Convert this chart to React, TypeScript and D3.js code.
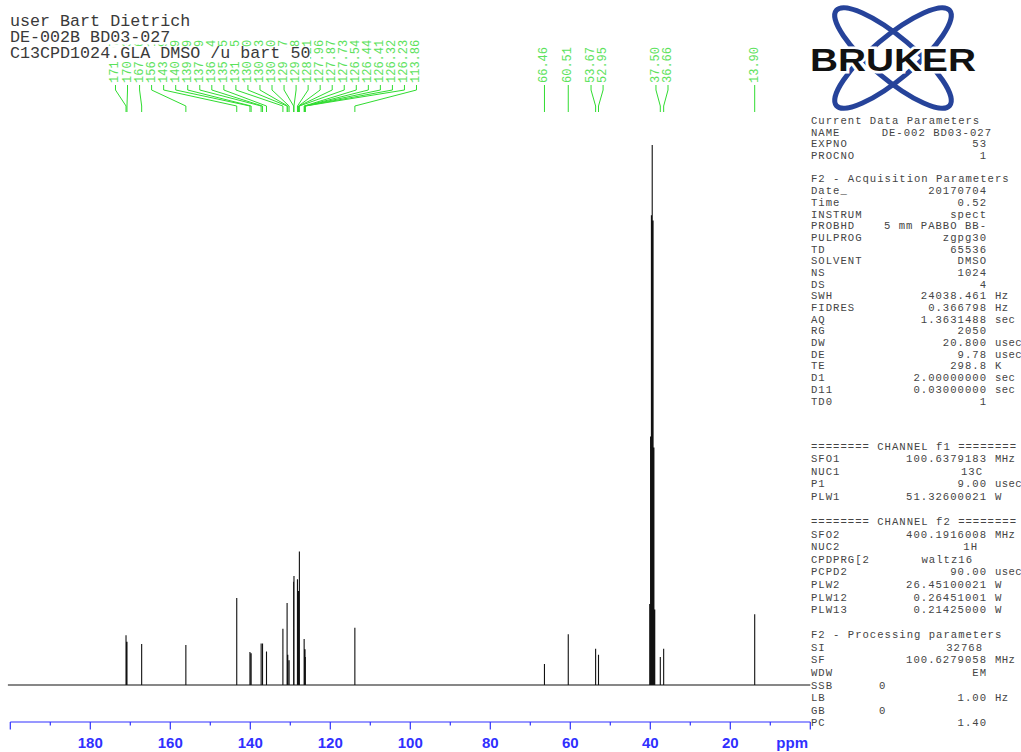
import React from "react";
import * as d3 from "d3";

// labelled 13C peaks (ppm) and their heights (% of tallest solvent line)
const peakPpm = [
  171.07, 170.83, 167.16, 156.11, 143.39, 140.09, 139.79, 137.29, 136.94, 135.95,
  131.85, 130.8, 130.63, 130.3, 129.17, 129.08, 128.21, 127.96, 127.87, 127.73,
  126.54, 126.44, 126.41, 126.32, 126.23, 113.86, 66.46, 60.51, 53.67, 52.95,
  37.5, 36.66, 13.9,
];
const peakInt = [
  9.2, 8.0, 7.6, 7.4, 16.1, 6.1, 5.9, 7.7, 7.7, 6.2,
  10.4, 15.2, 5.6, 4.6, 19.1, 20.2, 19.6, 17.4, 15.7, 24.7,
  8.5, 6.6, 5.6, 6.6, 5.2, 10.6, 3.9, 9.4, 6.7, 5.6,
  5.2, 6.7, 13.1,
];

// DMSO-d6 septet (not labelled)
const solventPpm = [40.14, 39.93, 39.72, 39.52, 39.31, 39.1, 38.89];
const solventInt = [15, 46, 87, 100, 86, 44, 14];

const axisLabels = [180, 160, 140, 120, 100, 80, 60, 40, 20];

const titleLines = ["user Bart Dietrich", "DE-002B BD03-027", "C13CPD1024.GLA DMSO /u bart 50"];

type Row = [string?, string?, string?, number?];

const acqRows: Row[] = [
  ["Current Data Parameters"],
  ["NAME", "DE-002 BD03-027", "", 992],
  ["EXPNO", "53"],
  ["PROCNO", "1"],
  [],
  ["F2 - Acquisition Parameters"],
  ["Date_", "20170704"],
  ["Time", "0.52"],
  ["INSTRUM", "spect"],
  ["PROBHD", "5 mm PABBO BB-"],
  ["PULPROG", "zgpg30"],
  ["TD", "65536"],
  ["SOLVENT", "DMSO"],
  ["NS", "1024"],
  ["DS", "4"],
  ["SWH", "24038.461", "Hz"],
  ["FIDRES", "0.366798", "Hz"],
  ["AQ", "1.3631488", "sec"],
  ["RG", "2050"],
  ["DW", "20.800", "usec"],
  ["DE", "9.78", "usec"],
  ["TE", "298.8", "K"],
  ["D1", "2.00000000", "sec"],
  ["D11", "0.03000000", "sec"],
  ["TD0", "1"],
];

const procRows: Row[] = [
  ["======== CHANNEL f1 ========"],
  ["SFO1", "100.6379183", "MHz"],
  ["NUC1", "13C", "", 983],
  ["P1", "9.00", "usec"],
  ["PLW1", "51.32600021", "W"],
  [],
  ["======== CHANNEL f2 ========"],
  ["SFO2", "400.1916008", "MHz"],
  ["NUC2", "1H", "", 978],
  ["CPDPRG[2", "waltz16", "", 973],
  ["PCPD2", "90.00", "usec"],
  ["PLW2", "26.45100021", "W"],
  ["PLW12", "0.26451001", "W"],
  ["PLW13", "0.21425000", "W"],
  [],
  ["F2 - Processing parameters"],
  ["SI", "32768", "", 983],
  ["SF", "100.6279058", "MHz"],
  ["WDW", "EM"],
  ["SSB", "0", "", -1],
  ["LB", "1.00", "Hz"],
  ["GB", "0", "", -1],
  ["PC", "1.40"],
];

const x = d3.scaleLinear().domain([200, 0]).range([10.3, 810.3]);
const y = d3.scaleLinear().domain([0, 100]).range([685, 145]);

const GREEN_TXT = "#5ce25c";
const GREEN_LN = "#30dc30";
const BLUE = "#3030ff";
const PANEL = "#444";
const MONO = "'Liberation Mono', 'Courier New', monospace";

// spread the labels so that they never overlap (Bruker style)
function layoutLabels(px: number[], gap: number) {
  const order = px.map((v, i) => i).sort((a, b) => px[a] - px[b]);
  let cl = order.map((i) => ({ idx: [i], sum: px[i] }));
  let merged = true;
  while (merged) {
    merged = false;
    for (let i = 0; i < cl.length - 1; i++) {
      const a = cl[i], b = cl[i + 1];
      const aEnd = a.sum / a.idx.length + ((a.idx.length - 1) / 2) * gap;
      const bStart = b.sum / b.idx.length - ((b.idx.length - 1) / 2) * gap;
      if (bStart - aEnd < gap) {
        cl.splice(i, 2, { idx: a.idx.concat(b.idx), sum: a.sum + b.sum });
        merged = true;
        break;
      }
    }
  }
  const pos: number[] = new Array(px.length);
  cl.forEach((c) => {
    const n = c.idx.length;
    const start = c.sum / n - ((n - 1) / 2) * gap;
    c.idx.forEach((id, k) => (pos[id] = start + k * gap));
  });
  return pos;
}

function Panel({ rows, top, step }: { rows: Row[]; top: number; step: number }) {
  return (
    <g fontFamily={MONO} fontSize={10.6} fill={PANEL} letterSpacing={1}>
      {rows.map((r, i) => {
        if (!r.length) return null;
        const cy = top + i * step;
        const [label, value, unit, endX] = r;
        return (
          <g key={i}>
            <text x={811} y={cy} dominantBaseline="central" style={{ whiteSpace: "pre" }}>
              {label}
            </text>
            {value != null &&
              (endX === -1 ? (
                <text x={879} y={cy} dominantBaseline="central">{value}</text>
              ) : (
                <text
                  x={endX ?? 987}
                  y={cy}
                  dominantBaseline="central"
                  textAnchor="end"
                  style={{ whiteSpace: "pre" }}
                >
                  {value}
                </text>
              ))}
            {unit ? (
              <text x={995} y={cy} dominantBaseline="central" letterSpacing={0.4}>
                {unit}
              </text>
            ) : null}
          </g>
        );
      })}
    </g>
  );
}

export default function App() {
  const peakX = peakPpm.map((p) => x(p));
  const labelX = layoutLabels(peakX, 12.04);
  const y0 = y(0);

  const spectrum =
    `M${x(200.6)},${y0}L${x(0)},${y0}` +
    peakPpm.map((p, i) => `M${x(p)},${y0}L${x(p)},${y(peakInt[i])}`).join("") +
    solventPpm.map((p, i) => `M${x(p)},${y0}L${x(p)},${y(solventInt[i])}`).join("");

  const ticks = x.ticks(20);
  const axisY = 722;

  return (
    <svg
      width={1021}
      height={752}
      style={{ position: "absolute", left: 0, top: 0, background: "#fff" }}
    >
      {/* peak labels */}
      <g>
        {peakPpm.map((p, i) => (
          <g key={i}>
            <path
              d={`M${labelX[i]},85L${labelX[i]},90L${peakX[i]},106L${peakX[i]},112`}
              fill="none"
              stroke={GREEN_LN}
              strokeWidth={1}
            />
            <text
              transform={`translate(${labelX[i]},83) rotate(-90)`}
              dominantBaseline="central"
              fontFamily={MONO}
              fontSize={12}
              fill={GREEN_TXT}
            >
              {p.toFixed(2)}
            </text>
          </g>
        ))}
      </g>

      {/* title (opaque background hides the label tops, as in the plot) */}
      <g fontFamily={MONO} fontSize={16.7} fill="#3a3a3a">
        {titleLines.map((t, i) => (
          <g key={i}>
            <rect x={10} y={26 + i * 16 - 10.5} width={t.length * 10} height={13} fill="#fff" />
            <text x={10} y={26 + i * 16} style={{ whiteSpace: "pre" }}>
              {t}
            </text>
          </g>
        ))}
      </g>

      {/* spectrum */}
      <path d={spectrum} fill="none" stroke="#111" strokeWidth={1.1} />

      {/* axis */}
      <g stroke={BLUE} strokeWidth={1.2}>
        <line x1={x(200)} x2={x(0)} y1={axisY} y2={axisY} />
        {ticks.map((t) => (
          <line key={t} x1={x(t)} x2={x(t)} y1={axisY} y2={axisY + (t % 20 === 0 ? 7.5 : 3.5)} />
        ))}
      </g>
      <g fontFamily="'Liberation Sans', Arial, sans-serif" fontWeight="bold" fontSize={15} fill={BLUE}>
        {axisLabels.map((t) => (
          <text key={t} x={x(t)} y={748} textAnchor="middle">
            {t}
          </text>
        ))}
        <text x={808} y={748} textAnchor="end">ppm</text>
      </g>

      {/* logo */}
      <g>
        <ellipse cx={893} cy={58} rx={74} ry={21} transform="rotate(40 893 58)" fill="none" stroke="#26439a" strokeWidth={5} />
        <ellipse cx={893} cy={58} rx={74} ry={21} transform="rotate(-40 893 58)" fill="none" stroke="#26439a" strokeWidth={5} />
        <text
          x={893}
          y={71}
          textAnchor="middle"
          fontFamily="'Liberation Sans', Arial, sans-serif"
          fontWeight={900}
          fontSize={32}
          textLength={166}
          lengthAdjust="spacingAndGlyphs"
          fill="#111"
          stroke="#fff"
          strokeWidth={5}
          paintOrder="stroke"
        >
          BRUKER
        </text>
      </g>

      {/* parameter panel */}
      <Panel rows={acqRows} top={121} step={11.69} />
      <Panel rows={procRows} top={446.7} step={12.57} />
    </svg>
  );
}
